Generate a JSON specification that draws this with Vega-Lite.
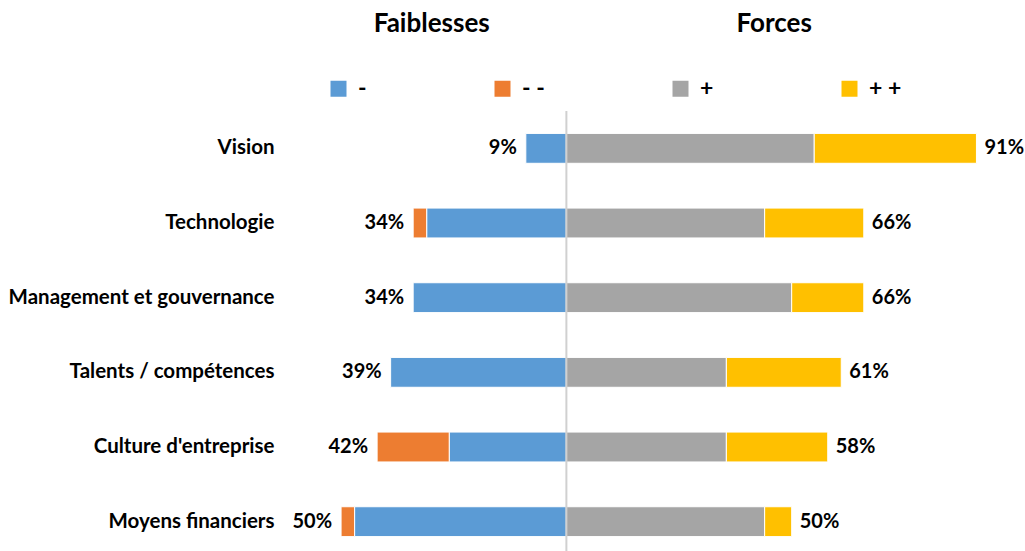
{
  "$schema": "https://vega.github.io/schema/vega-lite/v6.json",
  "autosize": {"type": "none"},
  "padding": {"left": 296, "top": 111, "right": 8, "bottom": 0},
  "width": 721,
  "height": 440,
  "background": "white",
  "config": {"view": {"stroke": null}, "font": "Lato"},
  "datasets": {
    "parts": [
      {"cat": "Vision", "type": "-", "v": -9},
      {"cat": "Vision", "type": "+", "v": 55},
      {"cat": "Vision", "type": "+ +", "v": 36},
      {"cat": "Technologie", "type": "-", "v": -31},
      {"cat": "Technologie", "type": "- -", "v": -3},
      {"cat": "Technologie", "type": "+", "v": 44},
      {"cat": "Technologie", "type": "+ +", "v": 22},
      {"cat": "Management et gouvernance", "type": "-", "v": -34},
      {"cat": "Management et gouvernance", "type": "+", "v": 50},
      {"cat": "Management et gouvernance", "type": "+ +", "v": 16},
      {"cat": "Talents / compétences", "type": "-", "v": -39},
      {"cat": "Talents / compétences", "type": "+", "v": 35.5},
      {"cat": "Talents / compétences", "type": "+ +", "v": 25.5},
      {"cat": "Culture d'entreprise", "type": "-", "v": -26},
      {"cat": "Culture d'entreprise", "type": "- -", "v": -16},
      {"cat": "Culture d'entreprise", "type": "+", "v": 35.5},
      {"cat": "Culture d'entreprise", "type": "+ +", "v": 22.5},
      {"cat": "Moyens financiers", "type": "-", "v": -47},
      {"cat": "Moyens financiers", "type": "- -", "v": -3},
      {"cat": "Moyens financiers", "type": "+", "v": 44},
      {"cat": "Moyens financiers", "type": "+ +", "v": 6}
    ],
    "totals": [
      {"cat": "Vision", "side": "left", "total": -9, "label": "9%"},
      {"cat": "Vision", "side": "right", "total": 91, "label": "91%"},
      {"cat": "Technologie", "side": "left", "total": -34, "label": "34%"},
      {"cat": "Technologie", "side": "right", "total": 66, "label": "66%"},
      {"cat": "Management et gouvernance", "side": "left", "total": -34, "label": "34%"},
      {"cat": "Management et gouvernance", "side": "right", "total": 66, "label": "66%"},
      {"cat": "Talents / compétences", "side": "left", "total": -39, "label": "39%"},
      {"cat": "Talents / compétences", "side": "right", "total": 61, "label": "61%"},
      {"cat": "Culture d'entreprise", "side": "left", "total": -42, "label": "42%"},
      {"cat": "Culture d'entreprise", "side": "right", "total": 58, "label": "58%"},
      {"cat": "Moyens financiers", "side": "left", "total": -50, "label": "50%"},
      {"cat": "Moyens financiers", "side": "right", "total": 50, "label": "50%"}
    ]
  },
  "layer": [
    {
      "data": {"name": "parts"},
      "mark": {"type": "bar", "stroke": "white", "strokeWidth": 1},
      "encoding": {
        "y": {
          "field": "cat", "type": "nominal", "sort": null,
          "scale": {"paddingInner": 0.6, "paddingOuter": 0.2465, "align": 0.609},
          "axis": {"title": null, "domain": false, "ticks": false, "labelPadding": 22, "labelFontSize": 20.5, "labelFont": "Lato", "labelFontWeight": "bold", "labelColor": "#000000", "labelLimit": 400}
        },
        "x": {
          "field": "v", "type": "quantitative", "stack": "zero",
          "scale": {"domain": [-60, 100], "nice": false},
          "axis": {"orient": "top", "values": [-30, 46], "labelExpr": "datum.value < 0 ? 'Faiblesses' : 'Forces'", "domain": false, "ticks": false, "grid": false, "title": null, "labelFontSize": 26, "labelFont": "Lato", "labelFontWeight": "bold", "labelColor": "#000000", "labelPadding": 80, "labelBaseline": "alphabetic", "labelAlign": "center", "labelFlush": false}
        },
        "color": {
          "field": "type", "type": "nominal",
          "scale": {"domain": ["-", "- -", "+", "+ +"], "range": ["#5B9BD5", "#ED7D31", "#A5A5A5", "#FFC000"]},
          "legend": {"title": null, "orient": "none", "direction": "horizontal", "columns": 4, "legendX": 31, "legendY": -34, "padding": 0, "symbolType": "square", "symbolSize": 256, "symbolStrokeWidth": 0, "labelFontSize": 23, "labelFont": "Lato", "labelFontWeight": "bold", "labelColor": "#000000", "labelOffset": 8, "columnPadding": 124}
        },
        "order": {"field": "type", "sort": "ascending"}
      }
    },
    {
      "data": {"name": "totals"},
      "transform": [{"filter": "datum.side === 'left'"}],
      "mark": {"type": "text", "align": "right", "baseline": "middle", "dx": -9, "fontSize": 20, "font": "Lato", "fontWeight": "bold", "color": "#000000"},
      "encoding": {
        "y": {"field": "cat", "type": "nominal", "sort": null},
        "x": {"field": "total", "type": "quantitative"},
        "text": {"field": "label"}
      }
    },
    {
      "data": {"name": "totals"},
      "transform": [{"filter": "datum.side === 'right'"}],
      "mark": {"type": "text", "align": "left", "baseline": "middle", "dx": 8, "fontSize": 20, "font": "Lato", "fontWeight": "bold", "color": "#000000"},
      "encoding": {
        "y": {"field": "cat", "type": "nominal", "sort": null},
        "x": {"field": "total", "type": "quantitative"},
        "text": {"field": "label"}
      }
    },
    {
      "data": {"values": [{"zero": 0}]},
      "mark": {"type": "rule", "color": "#D0D0D0", "strokeWidth": 2},
      "encoding": {"x": {"field": "zero", "type": "quantitative"}}
    }
  ]
}
